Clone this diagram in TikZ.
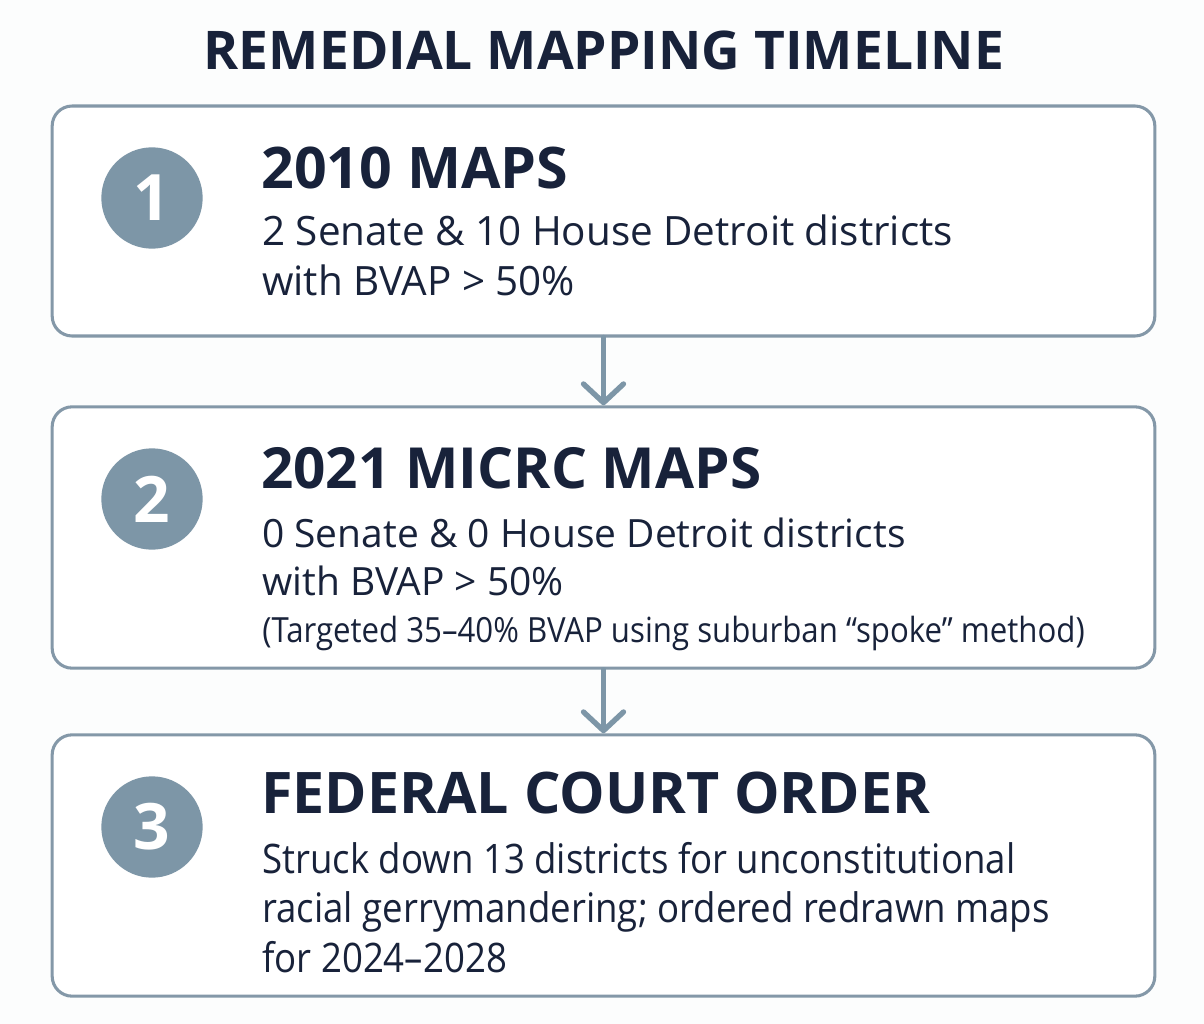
\documentclass[tikz,border=0pt]{standalone}
\usepackage{fontspec}
\setmainfont{Open Sans}
\newfontfamily\narrowsans{Open Sans}[FakeStretch=0.9]
\usetikzlibrary{arrows.meta}
\definecolor{ink}{HTML}{18223A}
\definecolor{slate}{HTML}{7D96A7}
\definecolor{edge}{HTML}{8498A8}
\definecolor{paper}{HTML}{FCFDFD}

\begin{document}
\begin{tikzpicture}[x=0.75pt, y=-0.75pt,
    panel/.style = {draw=edge, line width=2.3pt, rounded corners=15pt, fill=white, minimum width=827pt},
    badge/.style = {circle, fill=slate, minimum size=76pt, inner sep=0pt, text=white, font=\fontsize{48}{48}\selectfont\bfseries},
    heading/.style = {anchor=base west, inner sep=0pt, text=ink, font=\fontsize{43}{43}\selectfont\bfseries},
    detail/.style = {anchor=base west, inner sep=0pt, text=ink, font=\fontsize{29.5}{30}\selectfont},
    remark/.style = {anchor=base west, inner sep=0pt, text=ink, font=\narrowsans\fontsize{26}{26}\selectfont},
    flow/.style = {draw=slate, line width=4pt, line cap=round, -{Straight Barb[length=14pt, width=30pt, line cap=round, line join=round]}}]

    % page
    \fill[paper] (0,0) rectangle (1204,1024);
    \useasboundingbox (0,0) rectangle (1204,1024);

    \node[anchor=base, inner sep=0pt, text=ink, font=\fontsize{40}{40}\selectfont\bfseries] (title) at (604,70) {REMEDIAL MAPPING TIMELINE};

    % panels
    \node[panel, minimum height=172.5pt] (box1) at (603.5,221) {};
    \node[panel, minimum height=196pt] (box2) at (603.5,537.5) {};
    \node[panel, minimum height=196pt] (box3) at (603.5,865.5) {};

    \draw[flow] (box1.south) -- (box2.north);
    \draw[flow] (box2.south) -- (box3.north);

    % step 1
    \node[badge] (num1) at (152,198) {1};
    \node[heading] (head1) at (261,188) {2010 MAPS};
    \node[detail, font=\fontsize{30.3}{31}\selectfont] (txt1a) at (262,245) {2 Senate \& 10 House Detroit districts};
    \node[detail, font=\fontsize{30.3}{31}\selectfont] (txt1b) at (262,295) {with BVAP > 50\%};

    % step 2
    \node[badge] (num2) at (152,499) {2};
    \node[heading, font=\fontsize{42.5}{43}\selectfont\bfseries] (head2) at (261,488) {2021 MICRC MAPS};
    \node[detail, font=\fontsize{29.2}{30}\selectfont] (txt2a) at (262,547) {0 Senate \& 0 House Detroit districts};
    \node[detail, font=\fontsize{29.2}{30}\selectfont] (txt2b) at (262,595) {with BVAP > 50\%};
    \node[remark] (txt2c) at (262,642) {(Targeted 35–40\% BVAP using suburban “spoke” method)};

    % step 3
    \node[badge] (num3) at (152,827) {3};
    \node[heading] (head3) at (261,813) {FEDERAL COURT ORDER};
    \node[detail, font=\narrowsans\fontsize{30.5}{31}\selectfont] (txt3a) at (262,873) {Struck down 13 districts for unconstitutional};
    \node[detail, font=\narrowsans\fontsize{30.5}{31}\selectfont] (txt3b) at (262,922) {racial gerrymandering; ordered redrawn maps};
    \node[detail, font=\narrowsans\fontsize{30.5}{31}\selectfont] (txt3c) at (262,972) {for 2024–2028};

\end{tikzpicture}
\end{document}
